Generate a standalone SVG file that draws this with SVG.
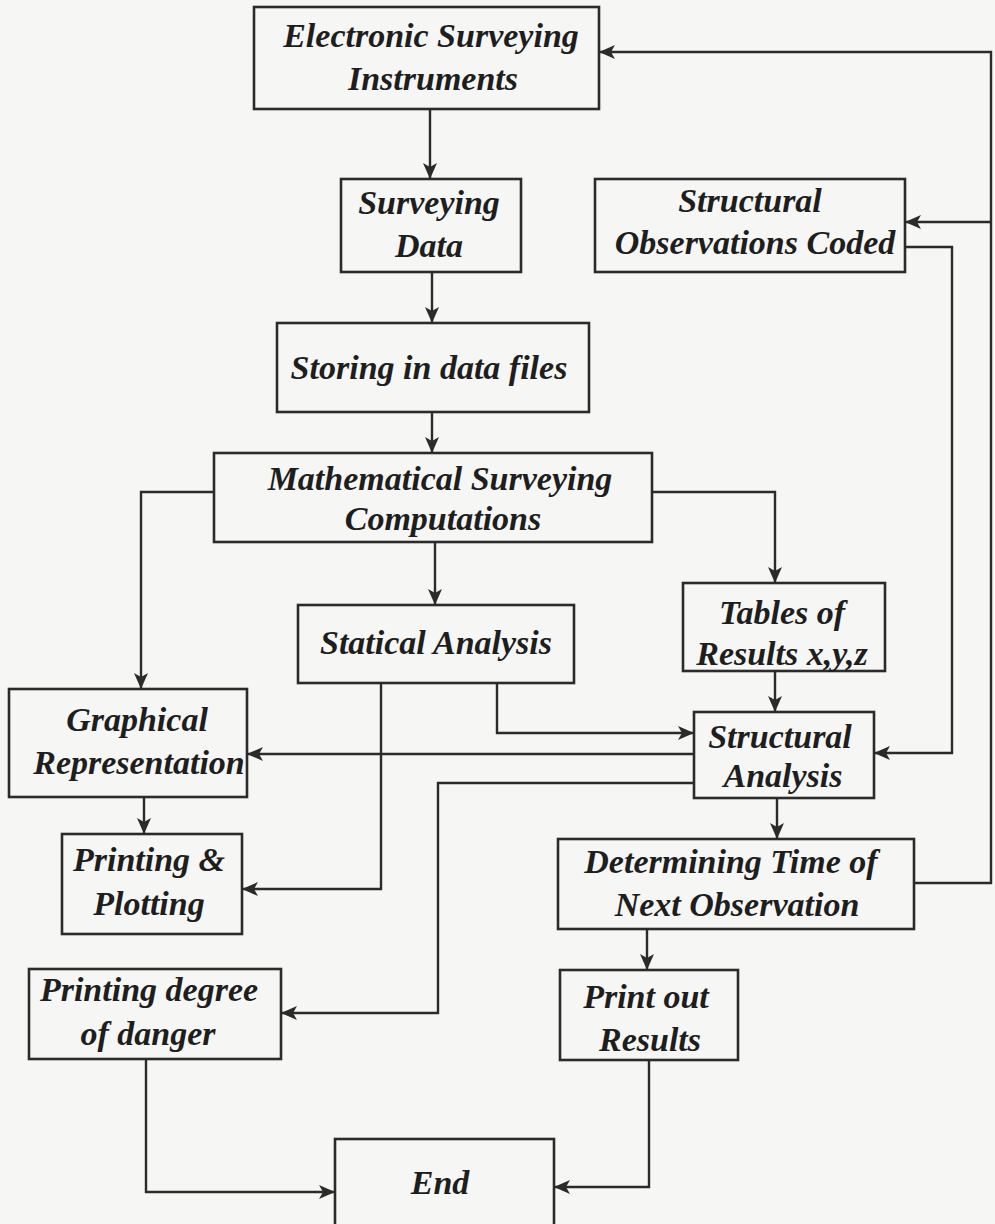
<svg xmlns="http://www.w3.org/2000/svg" width="995" height="1224" viewBox="0 0 995 1224">
<defs>
<style>
.bx{fill:none;stroke:#2b2b2b;stroke-width:2.6}
.ln{fill:none;stroke:#2b2b2b;stroke-width:2.4;stroke-linejoin:miter}
.ar{marker-end:url(#ah)}
.t{font-family:"Liberation Serif","Times New Roman",serif;font-weight:bold;font-style:italic;font-size:34px;fill:#1e1e1e;text-anchor:middle}
</style>
<marker id="ah" markerUnits="userSpaceOnUse" markerWidth="17" markerHeight="14" refX="16" refY="7" orient="auto" viewBox="0 0 17 14">
<path d="M0,0 L16,7 L0,14 L4,7 z" fill="#2b2b2b"/>
</marker>
</defs>
<rect width="995" height="1224" fill="#f6f6f4"/>

<g id="connectors">
<path class="ln ar" d="M430,109 V179"/>
<path class="ln ar" d="M432,272 V323"/>
<path class="ln ar" d="M432,412 V453"/>
<path class="ln ar" d="M214,492 H141 V689"/>
<path class="ln ar" d="M652,492 H775 V583"/>
<path class="ln ar" d="M435,542 V605"/>
<path class="ln ar" d="M775,671 V712"/>
<path class="ln ar" d="M497,683 V733 H694"/>
<path class="ln ar" d="M381,683 V889 H242"/>
<path class="ln ar" d="M694,754 H247"/>
<path class="ln ar" d="M694,783 H438 V1013 H281"/>
<path class="ln ar" d="M777,798 V839"/>
<path class="ln ar" d="M144,797 V834"/>
<path class="ln ar" d="M647,929 V970"/>
<path class="ln ar" d="M649,1060 V1187 H554"/>
<path class="ln ar" d="M146,1060 V1192 H335"/>
<path class="ln ar" d="M905,247 H952 V753 H874"/>
<path class="ln ar" d="M914,883 H991 V52 H599"/>
<path class="ln ar" d="M991,222 H905"/>
</g>

<g id="n1"><rect class="bx" x="254" y="7" width="345" height="102"/>
<text class="t" x="431" y="47">Electronic Surveying</text><text class="t" x="433" y="90">Instruments</text></g>

<g id="n2"><rect class="bx" x="341" y="179" width="180" height="93"/>
<text class="t" x="429" y="214">Surveying</text><text class="t" x="429" y="257">Data</text></g>

<g id="n3"><rect class="bx" x="595" y="179" width="310" height="93"/>
<text class="t" x="750" y="212">Structural</text><text class="t" x="755" y="254">Observations Coded</text></g>

<g id="n4"><rect class="bx" x="277" y="323" width="312" height="89"/>
<text class="t" x="429" y="379">Storing in data files</text></g>

<g id="n5"><rect class="bx" x="214" y="453" width="438" height="89"/>
<text class="t" x="440" y="490">Mathematical Surveying</text><text class="t" x="443" y="530">Computations</text></g>

<g id="n6"><rect class="bx" x="298" y="605" width="276" height="78"/>
<text class="t" x="436" y="654">Statical Analysis</text></g>

<g id="n7"><rect class="bx" x="683" y="583" width="202" height="88"/>
<text class="t" x="782" y="624">Tables of</text><text class="t" x="782" y="665">Results x,y,z</text></g>

<g id="n8"><rect class="bx" x="694" y="712" width="180" height="86"/>
<text class="t" x="780" y="748">Structural</text><text class="t" x="783" y="787">Analysis</text></g>

<g id="n9"><rect class="bx" x="9" y="689" width="238" height="108"/>
<text class="t" x="137" y="731">Graphical</text><text class="t" x="139" y="774">Representation</text></g>

<g id="n10"><rect class="bx" x="62" y="834" width="180" height="100"/>
<text class="t" x="149" y="871">Printing &amp;</text><text class="t" x="149" y="915">Plotting</text></g>

<g id="n11"><rect class="bx" x="29" y="969" width="252" height="90"/>
<text class="t" x="149" y="1001">Printing degree</text><text class="t" x="148" y="1045">of danger</text></g>

<g id="n12"><rect class="bx" x="558" y="839" width="356" height="90"/>
<text class="t" x="731" y="873">Determining Time of</text><text class="t" x="737" y="916">Next Observation</text></g>

<g id="n13"><rect class="bx" x="560" y="970" width="178" height="90"/>
<text class="t" x="646" y="1008">Print out</text><text class="t" x="650" y="1051">Results</text></g>

<g id="n14"><rect class="bx" x="335" y="1139" width="219" height="92"/>
<text class="t" x="440" y="1194">End</text></g>
</svg>
